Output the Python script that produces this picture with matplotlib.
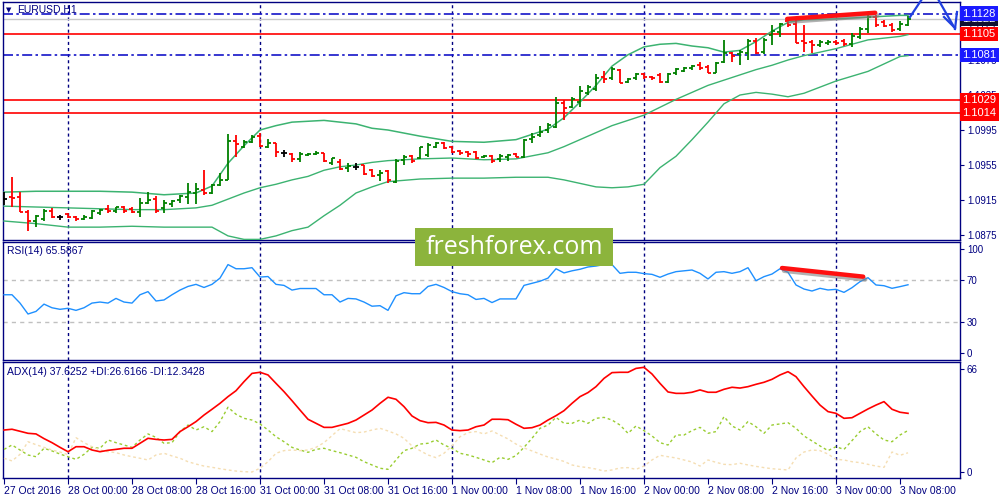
import matplotlib
matplotlib.use('Agg')
import matplotlib.pyplot as plt
import matplotlib.patheffects as pe
from matplotlib.patches import Rectangle
from matplotlib.lines import Line2D
import numpy as np

# ---------------- data ----------------
opens = [1.0916, 1.0918, 1.0918, 1.0901, 1.0891, 1.0893, 1.0902, 1.0896, 1.0899, 1.0896,
         1.0893, 1.0894, 1.0900, 1.0905, 1.0902, 1.0907, 1.0905, 1.0901, 1.0912, 1.0916,
         1.0906, 1.0910, 1.0915, 1.0918, 1.0923, 1.0926, 1.0923, 1.0932, 1.0938, 1.0982,
         1.0976, 1.0981, 1.0988, 1.0976, 1.0980, 1.0969, 1.0968, 1.0962, 1.0966, 1.0968,
         1.0969, 1.0957, 1.0958, 1.0952, 1.0953, 1.0955, 1.0949, 1.0944, 1.0948, 1.0936,
         1.0961, 1.0965, 1.0963, 1.0966, 1.0976, 1.0980, 1.0976, 1.0971, 1.0970, 1.0970,
         1.0964, 1.0965, 1.0962, 1.0964, 1.0968, 1.0964, 1.0985, 1.0989, 1.0995, 1.0998,
         1.1026, 1.1021, 1.1027, 1.1037, 1.1042, 1.1056, 1.1054, 1.1064, 1.1050, 1.1054,
         1.1059, 1.1056, 1.1058, 1.1050, 1.1060, 1.1062, 1.1066, 1.1069, 1.1067, 1.1060,
         1.1073, 1.1083, 1.1082, 1.1083, 1.1097, 1.1084, 1.1104, 1.1107, 1.1120, 1.1116,
         1.1097, 1.1096, 1.1092, 1.1094, 1.1096, 1.1097, 1.1093, 1.1101, 1.1110, 1.1124,
         1.1118, 1.1115, 1.1110, 1.1115]
highs = [1.0924, 1.0941, 1.0924, 1.0904, 1.0898, 1.0905, 1.0906, 1.0898, 1.0900, 1.0897,
         1.0898, 1.0904, 1.0905, 1.0909, 1.0907, 1.0908, 1.0907, 1.0917, 1.0924, 1.0920,
         1.0915, 1.0915, 1.0921, 1.0934, 1.0934, 1.0949, 1.0933, 1.0946, 1.0990, 1.0989,
         1.0984, 1.0989, 1.0992, 1.0985, 1.0980, 1.0972, 1.0969, 1.0970, 1.0969, 1.0971,
         1.0969, 1.0963, 1.0962, 1.0957, 1.0957, 1.0955, 1.0950, 1.0949, 1.0949, 1.0962,
         1.0966, 1.0966, 1.0976, 1.0980, 1.0981, 1.0981, 1.0977, 1.0972, 1.0971, 1.0971,
         1.0966, 1.0966, 1.0968, 1.0968, 1.0969, 1.0985, 1.0992, 1.1000, 1.1003, 1.1033,
         1.1029, 1.1033, 1.1045, 1.1046, 1.1059, 1.1062, 1.1067, 1.1065, 1.1054, 1.1060,
         1.1060, 1.1057, 1.1060, 1.1060, 1.1066, 1.1067, 1.1069, 1.1073, 1.1069, 1.1073,
         1.1098, 1.1084, 1.1086, 1.1099, 1.1100, 1.1100, 1.1115, 1.1117, 1.1123, 1.1123,
         1.1115, 1.1098, 1.1098, 1.1098, 1.1098, 1.1099, 1.1106, 1.1113, 1.1126, 1.1126,
         1.1121, 1.1117, 1.1120, 1.1125]
lows = [1.0909, 1.0907, 1.0901, 1.0880, 1.0884, 1.0891, 1.0894, 1.0892, 1.0894, 1.0891,
        1.0892, 1.0893, 1.0898, 1.0900, 1.0900, 1.0900, 1.0900, 1.0896, 1.0910, 1.0900,
        1.0900, 1.0907, 1.0912, 1.0910, 1.0910, 1.0921, 1.0922, 1.0931, 1.0938, 1.0964,
        1.0974, 1.0980, 1.0976, 1.0974, 1.0964, 1.0964, 1.0958, 1.0958, 1.0965, 1.0966,
        1.0958, 1.0955, 1.0949, 1.0947, 1.0949, 1.0944, 1.0941, 1.0937, 1.0934, 1.0934,
        1.0955, 1.0957, 1.0962, 1.0964, 1.0974, 1.0973, 1.0969, 1.0966, 1.0964, 1.0962,
        1.0963, 1.0957, 1.0958, 1.0960, 1.0964, 1.0963, 1.0980, 1.0987, 1.0992, 1.0997,
        1.1007, 1.1020, 1.1021, 1.1035, 1.1040, 1.1049, 1.1052, 1.1049, 1.1049, 1.1052,
        1.1053, 1.1052, 1.1049, 1.1049, 1.1058, 1.1061, 1.1064, 1.1064, 1.1060, 1.1060,
        1.1072, 1.1073, 1.1069, 1.1075, 1.1082, 1.1082, 1.1092, 1.1101, 1.1113, 1.1094,
        1.1084, 1.1083, 1.1090, 1.1092, 1.1092, 1.1091, 1.1090, 1.1099, 1.1106, 1.1113,
        1.1113, 1.1107, 1.1108, 1.1114]
closes = [1.0916, 1.0917, 1.0901, 1.0891, 1.0897, 1.0902, 1.0896, 1.0896, 1.0896, 1.0893,
          1.0896, 1.0902, 1.0904, 1.0902, 1.0907, 1.0902, 1.0901, 1.0912, 1.0915, 1.0902,
          1.0912, 1.0914, 1.0920, 1.0924, 1.0928, 1.0923, 1.0932, 1.0938, 1.0982, 1.0979,
          1.0981, 1.0987, 1.0977, 1.0980, 1.0970, 1.0969, 1.0962, 1.0968, 1.0968, 1.0969,
          1.0960, 1.0963, 1.0950, 1.0954, 1.0953, 1.0945, 1.0942, 1.0946, 1.0938, 1.0960,
          1.0964, 1.0960, 1.0976, 1.0978, 1.0980, 1.0974, 1.0970, 1.0969, 1.0968, 1.0963,
          1.0965, 1.0960, 1.0965, 1.0966, 1.0964, 1.0984, 1.0987, 1.0993, 1.1001, 1.1026,
          1.1020, 1.1030, 1.1040, 1.1044, 1.1054, 1.1053, 1.1065, 1.1049, 1.1053, 1.1059,
          1.1056, 1.1054, 1.1050, 1.1059, 1.1065, 1.1066, 1.1068, 1.1066, 1.1060, 1.1072,
          1.1083, 1.1080, 1.1084, 1.1097, 1.1083, 1.1098, 1.1108, 1.1116, 1.1115, 1.1094,
          1.1094, 1.1092, 1.1096, 1.1096, 1.1094, 1.1093, 1.1102, 1.1110, 1.1124, 1.1115,
          1.1114, 1.1109, 1.1116, 1.1122]

band_idx = [0, 4, 8, 12, 16, 20, 24, 26, 28, 30, 32, 34, 36, 38, 40, 42, 44, 46, 48, 52,
            56, 60, 64, 68, 70, 72, 74, 76, 78, 80, 82, 84, 86, 88, 90, 92, 94, 96, 98,
            100, 104, 108, 112, 113]
band_upper = [1.0924, 1.0925, 1.0925, 1.0925, 1.0924, 1.0921, 1.0923, 1.0931, 1.0957, 1.0977,
              1.0995, 1.1000, 1.1004, 1.1005, 1.1006, 1.1004, 1.1002, 1.0997, 1.0995, 1.0988,
              1.0982, 1.0981, 1.0984, 1.0996, 1.1009, 1.1027, 1.1046, 1.1068, 1.1081, 1.1090,
              1.1093, 1.1094, 1.1091, 1.1089, 1.1084, 1.1086, 1.1096, 1.1108, 1.1118,
              1.1121, 1.1122, 1.1124, 1.1126, 1.1126]
band_mid = [1.0908, 1.0907, 1.0906, 1.0905, 1.0904, 1.0904, 1.0906, 1.0909, 1.0916, 1.0923,
            1.0929, 1.0933, 1.0938, 1.0942, 1.0949, 1.0953, 1.0955, 1.0958, 1.0960, 1.0962,
            1.0963, 1.0961, 1.0962, 1.0969, 1.0976, 1.0984, 1.0992, 1.1000, 1.1006, 1.1012,
            1.1021, 1.1030, 1.1038, 1.1046, 1.1052, 1.1058, 1.1064, 1.1069, 1.1075,
            1.1080, 1.1088, 1.1098, 1.1102, 1.1104]
band_lower = [1.0891, 1.0888, 1.0884, 1.0884, 1.0885, 1.0884, 1.0884, 1.0884, 1.0874, 1.0870,
              1.0870, 1.0874, 1.0880, 1.0884, 1.0897, 1.0909, 1.0923, 1.0930, 1.0936, 1.0939,
              1.0940, 1.0940, 1.0941, 1.0941, 1.0938, 1.0934, 1.0930, 1.0929, 1.0930, 1.0933,
              1.0952, 1.0965, 1.0984, 1.1004, 1.1025, 1.1035, 1.1038, 1.1036, 1.1033,
              1.1037, 1.1051, 1.1062, 1.1079, 1.1080]

rsi = [56, 56, 48, 37.5, 40, 47, 43.5, 42, 43, 41,
       43.5, 48, 49, 48, 52.5, 49, 48, 56, 59, 50,
       51, 56, 60.5, 64, 66, 63, 66, 72, 85, 81,
       81, 82, 73, 73.5, 66, 65, 60.5, 62, 62, 62,
       56, 56, 49, 52.5, 52, 49, 45, 45.5, 41, 55,
       58, 57, 57, 64, 66, 63, 59, 57, 56, 51.5,
       52.5, 48.5, 52, 52, 52, 65, 67, 69, 72, 81,
       77, 79, 80.5, 82.7, 83.6, 85, 85, 76.6, 77.6, 77.6,
       76.3, 75.6, 72.8, 75.9, 78.2, 79, 79.8, 76.6, 71.2, 77.6,
       78.2, 76.6, 78.2, 82, 69.5, 73.4, 75.9, 81, 77.6, 65.4,
       61.5, 59.6, 62.2, 60.6, 61.2, 58.3, 62.8, 68.6, 72.4, 65.4,
       64.7, 62.2, 63.8, 65.6]

adx = [26.9, 27.4, 26.1, 24.8, 24.4, 21.4, 18.8, 15.8, 13, 16.2,
       16.2, 14.1, 13, 13.9, 14.5, 15.2, 15.2, 18.4, 21.6, 20.9,
       20.5, 20.9, 25.9, 29, 32.3, 36.5, 40.2, 44, 48.3, 52.1,
       57.9, 63.2, 63.9, 62.2, 56.8, 51.5, 45.7, 39.7, 33.8, 31.2,
       28.6, 28.6, 29.9, 31.2, 33.3, 36.5, 39.7, 44, 47.9, 46.6,
       41.9, 35.9, 32.9, 31.6, 31.8, 30.1, 26.9, 26.5, 26.9, 29,
       30.1, 33.8, 33.8, 33.5, 30.6, 28, 28.4, 30.1, 33.3, 36.1,
       39.3, 44, 48.3, 50.9, 54.7, 60, 63.7, 63.9, 63.9, 66.4,
       67.1, 62.8, 56.8, 51.3, 50.4, 50.4, 51.1, 52.6, 51.1, 51.1,
       53, 54.3, 53.8, 54.7, 56.2, 57.5, 59.4, 62.2, 64.3, 61.1,
       54.7, 48.7, 42.9, 38.7, 37.6, 34.4, 34.8, 37.6, 40.4, 42.9,
       45.1, 40.2, 38.3, 37.6]
plus_di = [14.5, 17.3, 14.1, 10.9, 9.8, 15.2, 13.5, 11.5, 9.8, 8.1,
           11.3, 15.8, 15.2, 20.5, 18.8, 17.3, 15.8, 20.5, 24.4, 22.2,
           18.4, 18.8, 25.9, 30.1, 26.9, 29, 25.9, 32.3, 41.5, 37,
           34.4, 33.3, 30.8, 26.9, 22.6, 19.4, 15.8, 14.1, 12.6, 14.5,
           15.2, 13.7, 12.4, 10.9, 9.4, 6.6, 4.5, 2.4, 1.7, 7.7,
           13.7, 15.2, 17.9, 18.4, 20.5, 17.3, 15.2, 12, 10.9, 9.4,
           7.7, 6, 9.4, 8.1, 10.5, 15.8, 21.6, 28, 30.1, 35,
           31.2, 31.2, 33.3, 31.2, 34.4, 35, 33.3, 30.1, 24.8, 29.5,
           26.5, 23.1, 18.8, 17.3, 23.7, 23.7, 26.5, 28.6, 24.8, 25.9,
           35.5, 29.5, 26.9, 32.3, 29, 24.8, 30.1, 30.8, 31.6, 28,
           23.1, 19.9, 16.7, 13.7, 16.2, 14.5, 20.1, 25.9, 29, 24.4,
           20.5, 19.4, 23.7, 26.6]
minus_di = [8.8, 7.1, 11.3, 19.4, 17.5, 15.8, 14.1, 12.8, 11.1, 22,
            18.8, 16.2, 14.1, 13, 12.4, 10.9, 9.8, 8.8, 7.7, 10.9,
            12, 10.3, 8.8, 6.6, 5.1, 3.8, 3, 2.1, 1.3, 0.6,
            0.2, 0, 2.4, 6.6, 12, 13.7, 14.1, 13.7, 14.1, 15.8,
            18.8, 23.3, 27.8, 26.5, 25.2, 25.6, 26.9, 28, 26.3, 24.4,
            21.6, 16.7, 13.7, 10.9, 9.2, 12, 16.7, 22.6, 25.2, 25.9,
            24.4, 26.3, 23.7, 21.2, 17.9, 15.4, 13.5, 11.5, 9.6, 8.3,
            6.8, 4.5, 3.4, 2.8, 1.9, 0.6, 1.3, 2.6, 2.8, 1.7,
            3.8, 7.7, 10.7, 9.8, 9, 7.7, 6.4, 3.8, 7.7, 6.2,
            4.9, 4.7, 5.6, 4.5, 3.6, 2.8, 2.1, 1.7, 1.3, 9,
            12.8, 14.1, 13.7, 11.5, 8.1, 7.7, 6.6, 6, 4.9, 3.8,
            3, 12.8, 10.7, 12.3]

red_levels = [1.1105, 1.1029, 1.1014]
blue_levels = [1.1128, 1.1081]
bid_price = 1.1122
separators = [8, 32, 56, 80, 104]
tick_idx = [0, 8, 16, 24, 32, 40, 48, 56, 64, 72, 80, 88, 96, 104, 112]
tick_labels = ['27 Oct 2016', '28 Oct 00:00', '28 Oct 08:00', '28 Oct 16:00',
               '31 Oct 00:00', '31 Oct 08:00', '31 Oct 16:00', '1 Nov 00:00',
               '1 Nov 08:00', '1 Nov 16:00', '2 Nov 00:00', '2 Nov 08:00',
               '2 Nov 16:00', '3 Nov 00:00', '3 Nov 08:00']
price_ticks = [1.0875, 1.0915, 1.0955, 1.0995, 1.1035, 1.1075, 1.1115]
trend_price_x = [97.9, 108.9]
trend_price_y = [1.1122, 1.1129]
trend_rsi_x = [97.25, 107.4]
trend_rsi_y = [81.7, 73.4]

# ---------------- figure ----------------
W, H = 1000, 500
NAVY = '#000080'
plt.rcParams['font.family'] = ['Liberation Sans', 'DejaVu Sans']
fig = plt.figure(figsize=(10, 5), dpi=100)
fig.patch.set_facecolor('white')


def px_axes(x0, y0, x1, y1):
    return fig.add_axes([x0 / W, 1 - y1 / H, (x1 - x0) / W, (y1 - y0) / H])


ax = px_axes(3, 2, 960, 240)
ax_rsi = px_axes(3, 242, 960, 360)
ax_adx = px_axes(3, 362, 960, 478)

XMIN, XMAX = -0.125, 119.5
for a in (ax, ax_rsi, ax_adx):
    a.set_xlim(XMIN, XMAX)
    a.set_facecolor('white')
    for s in a.spines.values():
        s.set_color(NAVY)
        s.set_linewidth(1.0)
    a.yaxis.tick_right()
    a.tick_params(axis='y', which='both', left=False, right=True, length=3, width=0.8,
                  colors=NAVY, labelsize=7, pad=2)
    for sx in separators:
        a.axvline(sx, color=NAVY, lw=1.0, ls=(0, (2.2, 2.2)), zorder=1)

ax.set_xticks([])
ax_rsi.set_xticks([])

# ---- main price panel ----
ax.set_ylim(1.08693, 1.11413)
ax.set_yticks(price_ticks)
ax.set_yticklabels(['%.4f' % t for t in price_ticks])

idx = np.arange(len(closes))
o = np.array(opens); h = np.array(highs); l = np.array(lows); c = np.array(closes)
cols = np.where(c > o + 1e-9, '#008000', np.where(c < o - 1e-9, '#ff0000', '#000000'))
ax.vlines(idx, l, h, colors=cols, lw=1.3, zorder=4)
ax.hlines(o, idx - 0.4, idx, colors=cols, lw=1.3, zorder=4)
ax.hlines(c, idx, idx + 0.4, colors=cols, lw=1.3, zorder=4)

band_col = '#3cb371'
ax.plot(band_idx, band_upper, color=band_col, lw=1.1, zorder=3)
ax.plot(band_idx, band_mid, color=band_col, lw=1.0, zorder=3)
ax.plot(band_idx, band_lower, color=band_col, lw=1.0, zorder=3)

for lv in red_levels:
    ax.axhline(lv, color='#ff0000', lw=1.2, zorder=2)
for lv in blue_levels:
    ax.axhline(lv, color='#1414c8', lw=1.2, ls=(0, (6, 2, 1.5, 2)), zorder=2)
ax.axhline(bid_price, color='#c8c8c8', lw=1.0, zorder=1.5)

ax.plot(trend_price_x, trend_price_y, color='#ff1010', lw=3.2, solid_capstyle='round', zorder=6,
        path_effects=[pe.SimpleLineShadow(offset=(1.5, -2), shadow_color='#808080', alpha=0.6),
                      pe.Normal()])


def price_box(a, y, text, fc, z=10):
    a.text(1.0025, y, text, transform=a.get_yaxis_transform(), ha='left', va='center',
           color='white', fontsize=8, clip_on=False, zorder=z,
           bbox=dict(boxstyle='square,pad=0.2', fc=fc, ec='none'))


price_box(ax, bid_price, '%.4f' % bid_price, '#101030', z=9)
price_box(ax, blue_levels[0], '%.4f' % blue_levels[0], '#1a1aff')
price_box(ax, red_levels[0], '%.4f' % red_levels[0], '#ff0000')
price_box(ax, blue_levels[1], '%.4f' % blue_levels[1], '#1a1aff')
price_box(ax, red_levels[1], '%.4f' % red_levels[1], '#ff0000')
price_box(ax, red_levels[2], '%.4f' % red_levels[2], '#ff0000')

fig.text(6 / W, 1 - 10 / H, '\u25BC', fontsize=5, color=NAVY, va='center', ha='left',
         family='DejaVu Sans')
fig.text(17 / W, 1 - 10 / H, 'EURUSD,H1', fontsize=7.5, color=NAVY, va='center', ha='left')

# ---- RSI panel ----
ax_rsi.set_ylim(-6.7, 106.7)
ax_rsi.set_yticks([0, 30, 70, 100])
for lv in (30, 70):
    ax_rsi.axhline(lv, color='#c0c0c0', lw=1.0, ls=(0, (3, 3)), zorder=1)
ax_rsi.plot(idx, rsi, color='#1e90ff', lw=1.0, zorder=3)
ax_rsi.plot(trend_rsi_x, trend_rsi_y, color='#ff1010', lw=3.2, solid_capstyle='round', zorder=6,
            path_effects=[pe.SimpleLineShadow(offset=(1.5, -2), shadow_color='#808080', alpha=0.6),
                          pe.Normal()])
ax_rsi.text(4 / 957, 1 - 9 / 118, 'RSI(14) 65.5867', transform=ax_rsi.transAxes,
            fontsize=7.5, color=NAVY, va='center', ha='left')

# ---- ADX panel ----
ax_adx.set_ylim(-3.85, 70.5)
ax_adx.set_yticks([0, 66])
ax_adx.plot(idx, plus_di, color='#9acd32', lw=1.0, ls=(0, (2, 2)), zorder=3)
ax_adx.plot(idx, minus_di, color='#f5deb3', lw=1.0, ls=(0, (2, 2)), zorder=3)
ax_adx.plot(idx, adx, color='#ff0000', lw=1.2, zorder=4)
ax_adx.text(4 / 957, 1 - 10 / 116, 'ADX(14) 37.6252 +DI:26.6166 -DI:12.3428',
            transform=ax_adx.transAxes, fontsize=7.5, color=NAVY, va='center', ha='left')
ax_adx.set_xticks(tick_idx)
ax_adx.set_xticklabels(tick_labels)
ax_adx.tick_params(axis='x', length=4, width=0.8, colors=NAVY, labelsize=7.5, pad=2)
for lbl in ax_adx.get_xticklabels():
    lbl.set_ha('left')

# ---- hand-drawn blue arrows ----
arrow_col = '#2040e0'
for xs, ys in [([910, 922], [17, -1]),
               ([938, 954], [-1, 27]),
               ([944, 955], [17, 28]),
               ([957, 955], [12, 29])]:
    fig.add_artist(Line2D([x / W for x in xs], [1 - y / H for y in ys],
                          transform=fig.transFigure, color=arrow_col, lw=1.6, zorder=7))

# ---- watermark ----
fig.add_artist(Rectangle((415 / W, 1 - 266 / H), 198 / W, 38 / H, transform=fig.transFigure,
                         fc='#8cb43c', ec='none', zorder=8))
fig.text(514 / W, 1 - 248 / H, 'freshforex.com', ha='center', va='center', color='white',
         fontsize=18, family=['Open Sans', 'DejaVu Sans'], zorder=9)

fig.savefig('out.png', dpi=100, facecolor='white')
